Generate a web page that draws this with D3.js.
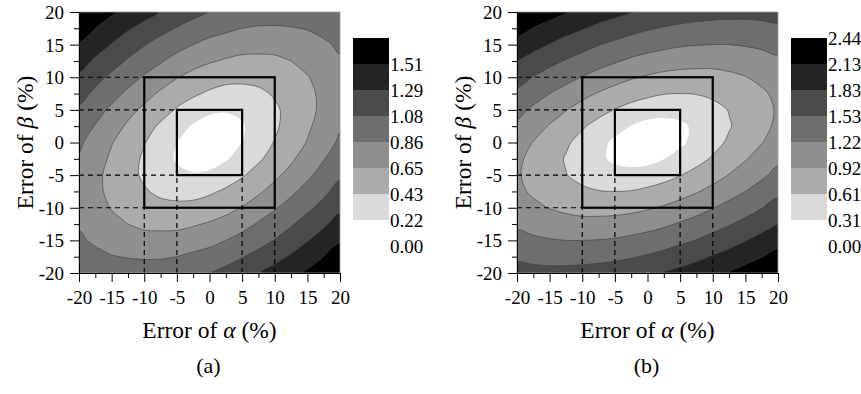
<!DOCTYPE html>
<html>
<head>
<meta charset="utf-8">
<script src="https://cdn.jsdelivr.net/npm/d3@7"></script>
<style>
  body { margin: 0; background: #fff; }
  svg { display: block; font-family: 'Liberation Serif', 'Times New Roman', serif; }
</style>
</head>
<body>
<svg id="chart" width="861" height="394"></svg>
<script>
// sample grid: error of alpha (columns) and beta (rows, top row first), in %
const alphaSteps = [-20, -17.5, -15, -12.5, -10, -7.5, -5, -2.5, 0, 2.5, 5, 7.5, 10, 12.5, 15, 17.5, 20];
const betaSteps = [20, 17.5, 15, 12.5, 10, 7.5, 5, 2.5, 0, -2.5, -5, -7.5, -10, -12.5, -15, -17.5, -20];
const majorTicks = [-20, -15, -10, -5, 0, 5, 10, 15, 20];
const minorTicks = [-17.5, -12.5, -7.5, -2.5, 2.5, 7.5, 12.5, 17.5];
const squareSizes = [5, 10];

// (a) values
const gridA = [
  [1.74, 1.64, 1.54, 1.45, 1.36, 1.28, 1.20, 1.14, 1.08, 1.03, 0.99, 0.97, 0.96, 0.96, 0.98, 1.00, 1.04],
  [1.61, 1.51, 1.41, 1.31, 1.23, 1.14, 1.07, 1.00, 0.94, 0.90, 0.86, 0.84, 0.84, 0.85, 0.87, 0.91, 0.96],
  [1.49, 1.38, 1.28, 1.18, 1.09, 1.01, 0.93, 0.86, 0.80, 0.76, 0.73, 0.72, 0.72, 0.74, 0.78, 0.83, 0.89],
  [1.37, 1.26, 1.16, 1.06, 0.96, 0.88, 0.79, 0.72, 0.67, 0.63, 0.60, 0.60, 0.61, 0.65, 0.70, 0.77, 0.84],
  [1.25, 1.14, 1.04, 0.94, 0.84, 0.75, 0.66, 0.59, 0.53, 0.49, 0.48, 0.49, 0.52, 0.57, 0.64, 0.72, 0.81],
  [1.15, 1.04, 0.93, 0.82, 0.72, 0.62, 0.53, 0.46, 0.40, 0.36, 0.36, 0.39, 0.45, 0.52, 0.60, 0.70, 0.79],
  [1.05, 0.94, 0.82, 0.71, 0.61, 0.51, 0.41, 0.33, 0.26, 0.24, 0.26, 0.32, 0.40, 0.49, 0.59, 0.70, 0.81],
  [0.96, 0.85, 0.74, 0.62, 0.51, 0.40, 0.30, 0.20, 0.13, 0.13, 0.20, 0.30, 0.40, 0.51, 0.62, 0.73, 0.84],
  [0.89, 0.78, 0.66, 0.55, 0.44, 0.33, 0.22, 0.11, 0.00, 0.11, 0.22, 0.33, 0.44, 0.55, 0.66, 0.78, 0.89],
  [0.84, 0.73, 0.62, 0.51, 0.40, 0.30, 0.20, 0.13, 0.13, 0.20, 0.30, 0.40, 0.51, 0.62, 0.74, 0.85, 0.96],
  [0.81, 0.70, 0.59, 0.49, 0.40, 0.32, 0.26, 0.24, 0.26, 0.33, 0.41, 0.51, 0.61, 0.71, 0.82, 0.94, 1.05],
  [0.79, 0.70, 0.60, 0.52, 0.45, 0.39, 0.36, 0.36, 0.40, 0.46, 0.53, 0.62, 0.72, 0.82, 0.93, 1.04, 1.15],
  [0.81, 0.72, 0.64, 0.57, 0.52, 0.49, 0.48, 0.49, 0.53, 0.59, 0.66, 0.75, 0.84, 0.94, 1.04, 1.14, 1.25],
  [0.84, 0.77, 0.70, 0.65, 0.61, 0.60, 0.60, 0.63, 0.67, 0.72, 0.79, 0.88, 0.96, 1.06, 1.16, 1.26, 1.37],
  [0.89, 0.83, 0.78, 0.74, 0.72, 0.72, 0.73, 0.76, 0.80, 0.86, 0.93, 1.01, 1.09, 1.18, 1.28, 1.38, 1.49],
  [0.96, 0.91, 0.87, 0.85, 0.84, 0.84, 0.86, 0.90, 0.94, 1.00, 1.07, 1.14, 1.23, 1.31, 1.41, 1.51, 1.61],
  [1.04, 1.00, 0.98, 0.96, 0.96, 0.97, 0.99, 1.03, 1.08, 1.14, 1.20, 1.28, 1.36, 1.45, 1.54, 1.64, 1.74]
];
const levelsA = [0.22, 0.43, 0.65, 0.86, 1.08, 1.29, 1.51];
const labelsA = ['0.00', '0.22', '0.43', '0.65', '0.86', '1.08', '1.29', '1.51'];

// (b)
const gridB = [
  [2.43, 2.33, 2.24, 2.15, 2.06, 1.98, 1.91, 1.84, 1.78, 1.73, 1.69, 1.66, 1.64, 1.62, 1.62, 1.63, 1.65],
  [2.23, 2.12, 2.03, 1.93, 1.85, 1.76, 1.69, 1.62, 1.56, 1.51, 1.47, 1.44, 1.42, 1.42, 1.42, 1.44, 1.47],
  [2.02, 1.92, 1.82, 1.72, 1.63, 1.54, 1.47, 1.40, 1.34, 1.29, 1.25, 1.23, 1.22, 1.22, 1.24, 1.27, 1.31],
  [1.83, 1.72, 1.61, 1.51, 1.42, 1.33, 1.25, 1.17, 1.11, 1.07, 1.03, 1.02, 1.01, 1.03, 1.06, 1.11, 1.17],
  [1.64, 1.52, 1.41, 1.31, 1.21, 1.11, 1.03, 0.95, 0.89, 0.84, 0.82, 0.81, 0.82, 0.86, 0.91, 0.98, 1.06],
  [1.46, 1.34, 1.22, 1.11, 1.00, 0.90, 0.81, 0.73, 0.67, 0.62, 0.61, 0.62, 0.66, 0.71, 0.79, 0.88, 0.98],
  [1.30, 1.17, 1.05, 0.93, 0.81, 0.70, 0.60, 0.51, 0.44, 0.41, 0.41, 0.46, 0.53, 0.62, 0.72, 0.83, 0.95],
  [1.16, 1.03, 0.90, 0.77, 0.64, 0.52, 0.41, 0.30, 0.22, 0.21, 0.26, 0.36, 0.47, 0.59, 0.72, 0.85, 0.97],
  [1.05, 0.91, 0.78, 0.65, 0.52, 0.39, 0.26, 0.13, 0.00, 0.13, 0.26, 0.39, 0.52, 0.65, 0.78, 0.91, 1.05],
  [0.97, 0.85, 0.72, 0.59, 0.47, 0.36, 0.26, 0.21, 0.22, 0.30, 0.41, 0.52, 0.64, 0.77, 0.90, 1.03, 1.16],
  [0.95, 0.83, 0.72, 0.62, 0.53, 0.46, 0.41, 0.41, 0.44, 0.51, 0.60, 0.70, 0.81, 0.93, 1.05, 1.17, 1.30],
  [0.98, 0.88, 0.79, 0.71, 0.66, 0.62, 0.61, 0.62, 0.67, 0.73, 0.81, 0.90, 1.00, 1.11, 1.22, 1.34, 1.46],
  [1.06, 0.98, 0.91, 0.86, 0.82, 0.81, 0.82, 0.84, 0.89, 0.95, 1.03, 1.11, 1.21, 1.31, 1.41, 1.52, 1.64],
  [1.17, 1.11, 1.06, 1.03, 1.01, 1.02, 1.03, 1.07, 1.11, 1.17, 1.25, 1.33, 1.42, 1.51, 1.61, 1.72, 1.83],
  [1.31, 1.27, 1.24, 1.22, 1.22, 1.23, 1.25, 1.29, 1.34, 1.40, 1.47, 1.54, 1.63, 1.72, 1.82, 1.92, 2.02],
  [1.47, 1.44, 1.42, 1.42, 1.42, 1.44, 1.47, 1.51, 1.56, 1.62, 1.69, 1.76, 1.85, 1.93, 2.03, 2.12, 2.23],
  [1.65, 1.63, 1.62, 1.62, 1.64, 1.66, 1.69, 1.73, 1.78, 1.84, 1.91, 1.98, 2.06, 2.15, 2.24, 2.33, 2.43]
];
const levelsB = [0.31, 0.61, 0.92, 1.22, 1.53, 1.83, 2.13];
const labelsB = ['0.00', '0.31', '0.61', '0.92', '1.22', '1.53', '1.83', '2.13', '2.44'];

const shades = ['#ffffff', '#dadada', '#ababab', '#8f8f8f', '#6f6f6f', '#4b4b4b', '#242424', '#000000'];

const panels = [
  { id: 'a', left: 0, grid: gridA, levels: levelsA, labels: labelsA, caption: '(a)' },
  { id: 'b', left: 438, grid: gridB, levels: levelsB, labels: labelsB, caption: '(b)' }
];

const plotLeft = 79, plotRight = 340, plotTop = 12, plotBottom = 273;
const cbLeft = 353, cbWidth = 36, cbTop = 38, cbBottom = 246;

const svg = d3.select('#chart');

panels.forEach(drawPanel);

function drawPanel(p) {
  const g = svg.append('g').attr('transform', `translate(${p.left},0)`);
  const x = d3.scaleLinear().domain([-20, 20]).range([plotLeft, plotRight]);
  const y = d3.scaleLinear().domain([-20, 20]).range([plotBottom, plotTop]);

  // d3.contours puts sample i at grid coordinate i + 0.5
  const nx = alphaSteps.length, ny = betaSteps.length;
  const gx = d3.scaleLinear().domain([0.5, nx - 0.5]).range([x(alphaSteps[0]), x(alphaSteps[nx - 1])]);
  const gy = d3.scaleLinear().domain([0.5, ny - 0.5]).range([y(betaSteps[0]), y(betaSteps[ny - 1])]);

  const contours = d3.contours().size([nx, ny]).thresholds(p.levels)(p.grid.flat());
  const ringLine = d3.line()
    .x(d => gx(d[0]))
    .y(d => gy(d[1]))
    .curve(d3.curveCatmullRomClosed.alpha(0.5));
  const shape = c => c.coordinates
    .map(poly => poly.map(ring => ringLine(ring.slice(0, -1))).join(''))
    .join('');

  g.append('clipPath').attr('id', 'clip-' + p.id)
    .append('rect')
    .attr('x', plotLeft).attr('y', plotTop)
    .attr('width', plotRight - plotLeft).attr('height', plotBottom - plotTop);

  const plot = g.append('g').attr('clip-path', `url(#clip-${p.id})`);
  plot.append('rect')
    .attr('x', plotLeft).attr('y', plotTop)
    .attr('width', plotRight - plotLeft).attr('height', plotBottom - plotTop)
    .attr('fill', shades[0]);

  plot.append('g')
    .selectAll('path')
    .data(contours)
    .join('path')
      .attr('d', shape)
      .attr('fill', (d, i) => shades[i + 1])
      .attr('fill-rule', 'evenodd');

  plot.append('g')
    .selectAll('path')
    .data(contours.slice(1))
    .join('path')
      .attr('d', shape)
      .attr('fill', 'none')
      .attr('stroke', '#3a3a3a')
      .attr('stroke-width', 0.6);

  // dashed guides from the axes to the squares
  const guides = g.append('g')
    .attr('stroke', '#000')
    .attr('stroke-width', 1.2)
    .attr('stroke-dasharray', '5,4');
  squareSizes.forEach(h => {
    [h, -h].forEach(v => {
      guides.append('line')
        .attr('x1', x(-20)).attr('x2', x(-h))
        .attr('y1', y(v)).attr('y2', y(v));
      guides.append('line')
        .attr('x1', x(v)).attr('x2', x(v))
        .attr('y1', y(-20)).attr('y2', y(-h));
    });
  });

  g.append('g')
    .selectAll('rect')
    .data(squareSizes)
    .join('rect')
      .attr('x', d => x(-d))
      .attr('y', d => y(d))
      .attr('width', d => x(d) - x(-d))
      .attr('height', d => y(-d) - y(d))
      .attr('fill', 'none')
      .attr('stroke', '#000')
      .attr('stroke-width', 2.2);

  g.append('rect')
    .attr('x', plotLeft).attr('y', plotTop)
    .attr('width', plotRight - plotLeft).attr('height', plotBottom - plotTop)
    .attr('fill', 'none')
    .attr('stroke', '#999')
    .attr('stroke-width', 0.8);

  // axes
  const xAxis = g.append('g')
    .attr('transform', `translate(0,${plotBottom})`)
    .call(d3.axisBottom(x).tickValues(majorTicks).tickSize(9).tickSizeOuter(0)
      .tickPadding(9).tickFormat(d => String(d)));
  g.append('g')
    .attr('transform', `translate(0,${plotBottom})`)
    .call(d3.axisBottom(x).tickValues(minorTicks).tickSize(5).tickFormat(''))
    .call(a => a.select('.domain').remove());

  const yAxis = g.append('g')
    .attr('transform', `translate(${plotLeft},0)`)
    .call(d3.axisLeft(y).tickValues(majorTicks).tickSize(9).tickSizeOuter(0)
      .tickPadding(6).tickFormat(d => String(d)));
  g.append('g')
    .attr('transform', `translate(${plotLeft},0)`)
    .call(d3.axisLeft(y).tickValues(minorTicks).tickSize(5).tickFormat(''))
    .call(a => a.select('.domain').remove());

  [xAxis, yAxis].forEach(a => {
    a.attr('font-family', null).attr('font-size', 19);
    a.selectAll('text').attr('fill', '#000');
  });
  yAxis.selectAll('text').attr('dy', '0.34em');

  // axis titles
  const xTitle = g.append('text')
    .attr('x', (plotLeft + plotRight) / 2)
    .attr('y', 338)
    .attr('text-anchor', 'middle')
    .attr('font-size', 23.5)
    .attr('fill', '#000');
  xTitle.append('tspan').text('Error of ');
  xTitle.append('tspan').attr('font-style', 'italic').text('α');
  xTitle.append('tspan').text(' (%)');

  const yTitle = g.append('text')
    .attr('transform', `translate(33,${(plotTop + plotBottom) / 2}) rotate(-90)`)
    .attr('text-anchor', 'middle')
    .attr('font-size', 23.5)
    .attr('fill', '#000');
  yTitle.append('tspan').text('Error of ');
  yTitle.append('tspan').attr('font-style', 'italic').text('β');
  yTitle.append('tspan').text(' (%)');

  g.append('text')
    .attr('x', (plotLeft + plotRight) / 2 - 1)
    .attr('y', 373)
    .attr('text-anchor', 'middle')
    .attr('font-size', 22)
    .attr('fill', '#000')
    .text(p.caption);

  // colour bar
  const nBands = p.levels.length + 1;
  const cy = d3.scaleLinear().domain([0, nBands]).range([cbBottom, cbTop]);
  g.append('g')
    .selectAll('rect')
    .data(d3.range(nBands))
    .join('rect')
      .attr('x', cbLeft)
      .attr('y', d => cy(d + 1))
      .attr('width', cbWidth)
      .attr('height', d => cy(d) - cy(d + 1))
      .attr('fill', d => shades[d]);

  g.append('g')
    .attr('font-size', 19)
    .attr('fill', '#000')
    .selectAll('text')
    .data(p.labels)
    .join('text')
      .attr('x', cbLeft + cbWidth + 1)
      .attr('y', (d, i) => cy(i) + 1)
      .attr('dy', '0.34em')
      .text(d => d);
}
</script>
</body>
</html>
